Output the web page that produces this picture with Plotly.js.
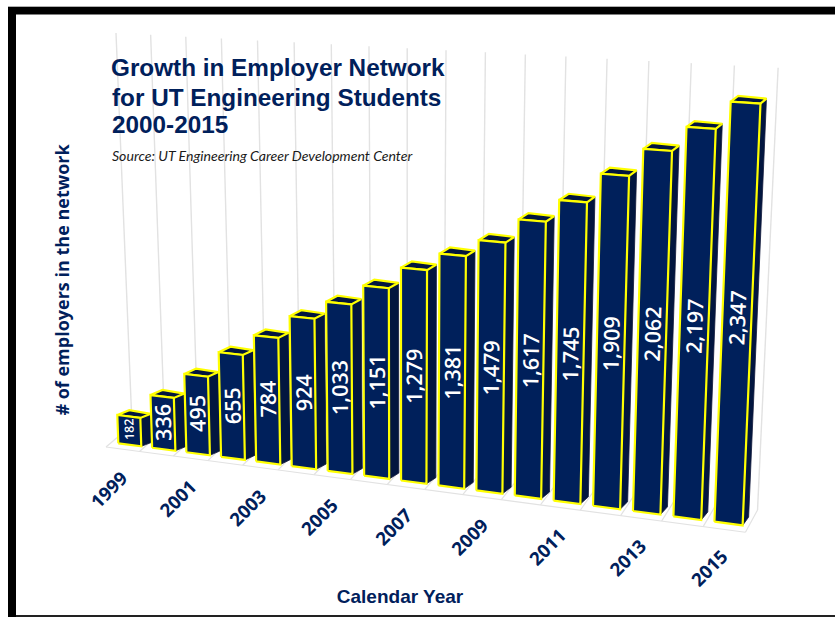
<!DOCTYPE html>
<html><head><meta charset="utf-8">
<script src="https://cdn.plot.ly/plotly-3.0.1.min.js"></script>
<style>html,body{margin:0;padding:0;background:#fff}#chart{width:835px;height:617px}</style>
</head><body><div id="chart"></div>
<script>
// ---- data ----
const years = [1999,2000,2001,2002,2003,2004,2005,2006,2007,2008,2009,2010,2011,2012,2013,2014,2015];
const employers = [182,336,495,655,784,924,1033,1151,1279,1381,1479,1617,1745,1909,2062,2197,2347];
const tickYears = [1999,2001,2003,2005,2007,2009,2011,2013,2015];
const axisMax = 2500;

// ---- style ----
const NAVY = '#00205b', SIDE = '#02163f', YELLOW = '#ffff00', GRID = '#e2e2e2';
const W = 800, H = 560;           // plot area in px; axes run 1:1 with the page
const px = v => v / W, py = v => (H - v) / H;

// ---- the picture is a flattened 3-D view: a projective map from (category, value) ----
const barSpan = 0.68, topV = employers[employers.length - 1], last = years.length - 1;
function front(i, v) {
  const f = v / topV, w = 1 - 0.0061 * i - 0.045 * f;
  return [(118.3 + 32.9 * i - 18.2 * f) / w, (443.3 + 1.718 * i - 383.6 * f) / w];
}
function depth(i, v) {
  const t = i / last, f = v / topV;
  return [10.5 - 4.5 * t * t, -((4 + 4.3 * t) * (1 - f) + 5 * f)];
}
function plane(k, xa, xb, ya, yb) {   // points along a receding edge
  const w = 1 - 0.00686 * k;
  return [(xa + xb * k) / w, (ya + yb * k) / w];
}
const wallBottom = k => plane(k, 132, 31.6, 425, 1.5);
const wallTop = (k, f) => { const b = wallBottom(k), t = plane(k, 116, 33.61, 33, 1.577);
  return [b[0] + (t[0] - b[0]) * f, b[1] + (t[1] - b[1]) * f]; };
const floorFront = k => plane(k, 106, 32.5, 447, 1.365);

function pathTrace(name, polys, extra) {
  const x = [], y = [];
  polys.forEach(p => { p.forEach(q => { x.push(q[0]); y.push(q[1]); }); x.push(null); y.push(null); });
  return Object.assign({type:'scatter', mode:'lines', name, x, y, hoverinfo:'skip', showlegend:false}, extra);
}
const closed = p => p.concat([p[0]]);
const add = (a, b, s) => [a[0] + b[0] * (s || 1), a[1] + b[1] * (s || 1)];

// ---- walls ----
const gridPolys = [], floorPolys = [];
for (let k = 0; k <= years.length; k++) {
  gridPolys.push([wallBottom(k), wallTop(k, axisMax / axisMax)]);
  floorPolys.push([floorFront(k), wallBottom(k)]);
}
floorPolys.push([floorFront(0), floorFront(years.length)]);

// ---- bars ----
const frontFaces = [], sideFaces = [], topFaces = [];
employers.forEach((v, i) => {
  const bl = front(i, 0), br = front(i + barSpan, 0), tl = front(i, v), tr = front(i + barSpan, v);
  const dB = depth(i, 0), dT = depth(i, v);
  frontFaces.push(closed([bl, br, tr, tl]));
  sideFaces.push(closed([br, add(br, dB), add(tr, dT), tr]));
  topFaces.push(closed([tl, tr, add(tr, dT), [tl[0] + dT[0] + 1.5, tl[1] + dT[1] - 0.7]]));
});

const traces = [
  pathTrace('grid', gridPolys, {line:{color:GRID, width:1.4}}),
  pathTrace('floor', floorPolys, {line:{color:GRID, width:1.2}}),
  pathTrace('bar sides', sideFaces, {fill:'toself', fillcolor:SIDE, line:{color:'#10183a', width:0.8}}),
  pathTrace('bar tops', topFaces, {fill:'toself', fillcolor:SIDE, line:{color:YELLOW, width:2.2}}),
  pathTrace('bar fronts', frontFaces, {fill:'toself', fillcolor:NAVY, line:{color:YELLOW, width:2.2}})
];

// ---- text ----
const annotations = [];
const note = (x, y, text, opts) => annotations.push(Object.assign(
  {x:px(x), y:py(y), xref:'paper', yref:'paper', text, showarrow:false, xanchor:'center', yanchor:'middle', borderpad:0}, opts));
employers.forEach((v, i) => {
  const c = front(i + barSpan / 2, v / 2), a = front(i + barSpan / 2, 0), b = front(i + barSpan / 2, v);
  const lean = Math.atan2(b[0] - a[0], a[1] - b[1]) * 180 / Math.PI;
  note(c[0], c[1] - 1, v.toLocaleString('en-US'), {textangle:-90 + lean,
    font:{family:'"Open Sans"', size: v < 200 ? 12.5 : 21.5, weight:600, color:'#ffffff'}});
});
tickYears.forEach(yr => {
  const i = years.indexOf(yr), w = 1 - 0.0061 * i;
  note((108 + 33.24 * i) / w, (489 + 1.47 * i) / w, '<b>' + yr + '</b>', {textangle:-45,
    font:{family:'"Open Sans"', size:18.5, color:NAVY}});
});
[['for UT Engineering Students', 97], ['2000-2015', 124.5]].forEach(l => {
  note(110.5, l[1], '<b>' + l[0] + '</b>', {xanchor:'left', font:{family:'"Liberation Sans"', size:24.3, color:NAVY}});
});
note(111, 155, '<i>Source: UT Engineering Career Development Center</i>',
  {xanchor:'left', font:{family:'Lato', size:14.1, color:'#1a1a1a'}});

// ---- page frame ----
const band = (x0, y0, x1, y1, c) => ({type:'rect', xref:'paper', yref:'paper', x0:px(x0), x1:px(x1), y0:py(y0), y1:py(y1),
  fillcolor:c, line:{width:0}, layer:'above'});
const shapes = [
  band(8, 6, 835, 7, '#b0b0b0'),
  band(8, 7, 835, 14.5, '#000000'),
  band(8, 7, 16, 617, '#000000'),
  band(16, 615, 835, 617, '#222222')
];

const axisBase = {showgrid:false, zeroline:false, showline:false, showticklabels:false, ticks:'', fixedrange:true, automargin:false};
const layout = {
  width:835, height:617, paper_bgcolor:'#ffffff', plot_bgcolor:'#ffffff', showlegend:false,
  margin:{l:0, r:35, t:0, b:57, pad:0},
  title:{text:'<b>Growth in Employer Network</b>', x:111/835, xanchor:'left', xref:'container',
    y:1-59/617, yanchor:'top', yref:'container', pad:{t:0,b:0,l:0,r:0},
    font:{family:'"Liberation Sans"', size:24.3, color:NAVY}},
  xaxis:Object.assign({}, axisBase, {range:[0, W],
    title:{text:'<b>Calendar Year</b>', standoff:29, font:{family:'"Liberation Sans"', size:19, color:NAVY}}}),
  yaxis:Object.assign({}, axisBase, {range:[H, 0], anchor:'free', position:76/W,
    title:{text:'<b># of employers in the network</b>', standoff:0, font:{family:'"Open Sans"', size:18, color:NAVY}}}),
  annotations, shapes
};
Plotly.newPlot('chart', traces, layout, {displayModeBar:false, staticPlot:true});
</script></body></html>
